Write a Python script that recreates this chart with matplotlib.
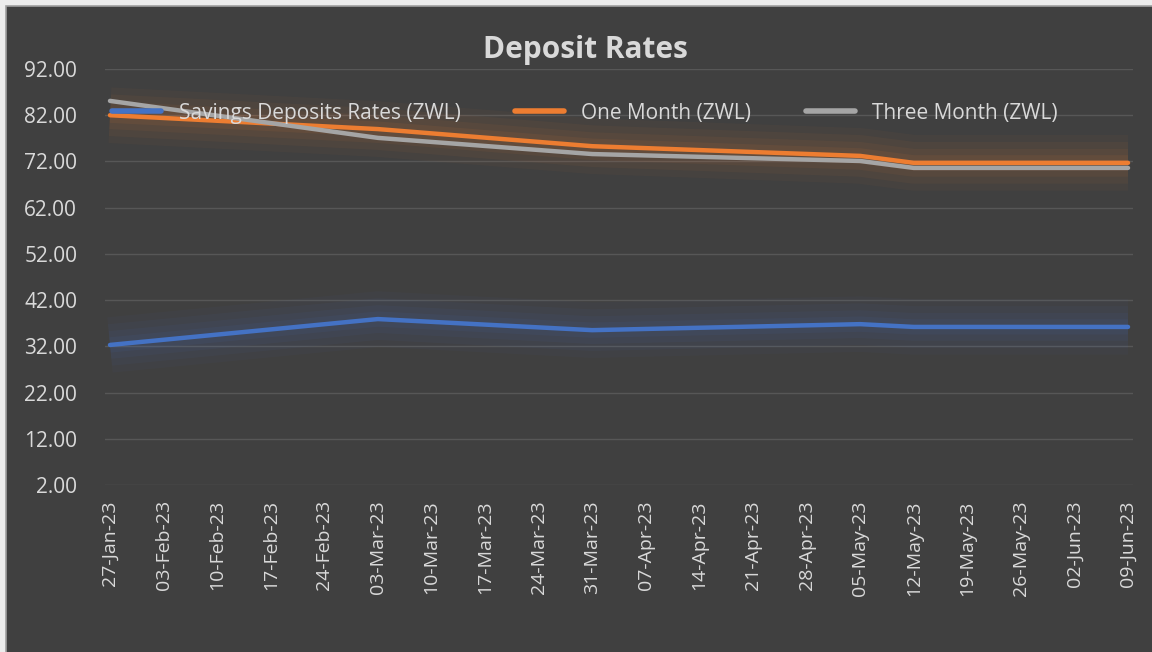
import pandas as pd
import matplotlib.pyplot as plt

# data (values at the dates where the lines bend)
dates = ['2023-01-27', '2023-03-03', '2023-03-31', '2023-05-05', '2023-05-12', '2023-06-09']
savings = [32.3, 37.9, 35.5, 36.8, 36.2, 36.2]
one_month = [82.0, 79.0, 75.3, 73.2, 71.7, 71.7]
three_month = [85.1, 77.1, 73.6, 72.1, 70.6, 70.6]

tick_labels = ['27-Jan-23', '03-Feb-23', '10-Feb-23', '17-Feb-23', '24-Feb-23',
               '03-Mar-23', '10-Mar-23', '17-Mar-23', '24-Mar-23', '31-Mar-23',
               '07-Apr-23', '14-Apr-23', '21-Apr-23', '28-Apr-23', '05-May-23',
               '12-May-23', '19-May-23', '26-May-23', '02-Jun-23', '09-Jun-23']
y_ticks = [2, 12, 22, 32, 42, 52, 62, 72, 82, 92]

x = pd.to_datetime(dates)
ticks = pd.to_datetime(tick_labels, format='%d-%b-%y')

plt.rcParams['font.family'] = ['Open Sans', 'DejaVu Sans']
txt = '#d9d9d9'
bg = '#404040'

fig = plt.figure(figsize=(11.52, 6.52), dpi=100, facecolor='#ececec')
# dark chart area with thin grey border on top/left
fig.patches.append(plt.Rectangle((6 / 1152, -0.01), 1, 1 - 6 / 652 + 0.01, transform=fig.transFigure,
                                 facecolor=bg, edgecolor='#a0a0a0', linewidth=1.2, zorder=-10))

ax = fig.add_axes([105 / 1152, 1 - 485 / 652, (1133 - 105) / 1152, (485 - 69) / 652])
ax.set_facecolor('none')

series = [
    (savings, '#4472c4', 'Savings Deposits Rates (ZWL)'),
    (one_month, '#ed7d31', 'One Month (ZWL)'),
    (three_month, '#a5a5a5', 'Three Month (ZWL)'),
]

# soft glow behind the lines
for vals, col, _ in series[:2]:
    for lw, a in [(40, 0.04), (30, 0.05), (20, 0.06), (11, 0.08)]:
        ax.plot(x, vals, color=col, linewidth=lw, alpha=a, solid_capstyle='butt', zorder=2)

for vals, col, lab in series:
    ax.plot(x, vals, color=col, linewidth=3.2, label=lab, solid_capstyle='round', zorder=3)

ax.set_ylim(2, 92)
ax.set_yticks(y_ticks)
ax.set_yticklabels([f'{v:.2f}' for v in y_ticks])
ax.set_xlim(ticks[0] - pd.Timedelta(days=0.65), ticks[-1] + pd.Timedelta(days=0.65))
ax.set_xticks(ticks)
ax.set_xticklabels(tick_labels, rotation=90)

ax.grid(axis='y', color='#575757', linewidth=1)
ax.set_axisbelow(True)
for s in ax.spines.values():
    s.set_visible(False)
ax.tick_params(axis='both', length=0, colors=txt)
ax.tick_params(axis='y', labelsize=15, pad=20)
ax.tick_params(axis='x', labelsize=14, pad=11)

fig.text(585 / 1152, 1 - 50 / 652, 'Deposit Rates', ha='center', va='center',
         fontsize=21.5, fontweight='bold', color=txt)

leg = ax.legend(loc='center left', bbox_to_anchor=(112 / 1152, 1 - 113 / 652),
                bbox_transform=fig.transFigure, ncol=3, frameon=False,
                fontsize=15, labelcolor=txt, handlelength=2.35, columnspacing=2.6,
                handletextpad=0.85, borderaxespad=0, borderpad=0)
for h in leg.get_lines():
    h.set_linewidth(4)

fig.savefig('out.png', dpi=100, facecolor=fig.get_facecolor())
